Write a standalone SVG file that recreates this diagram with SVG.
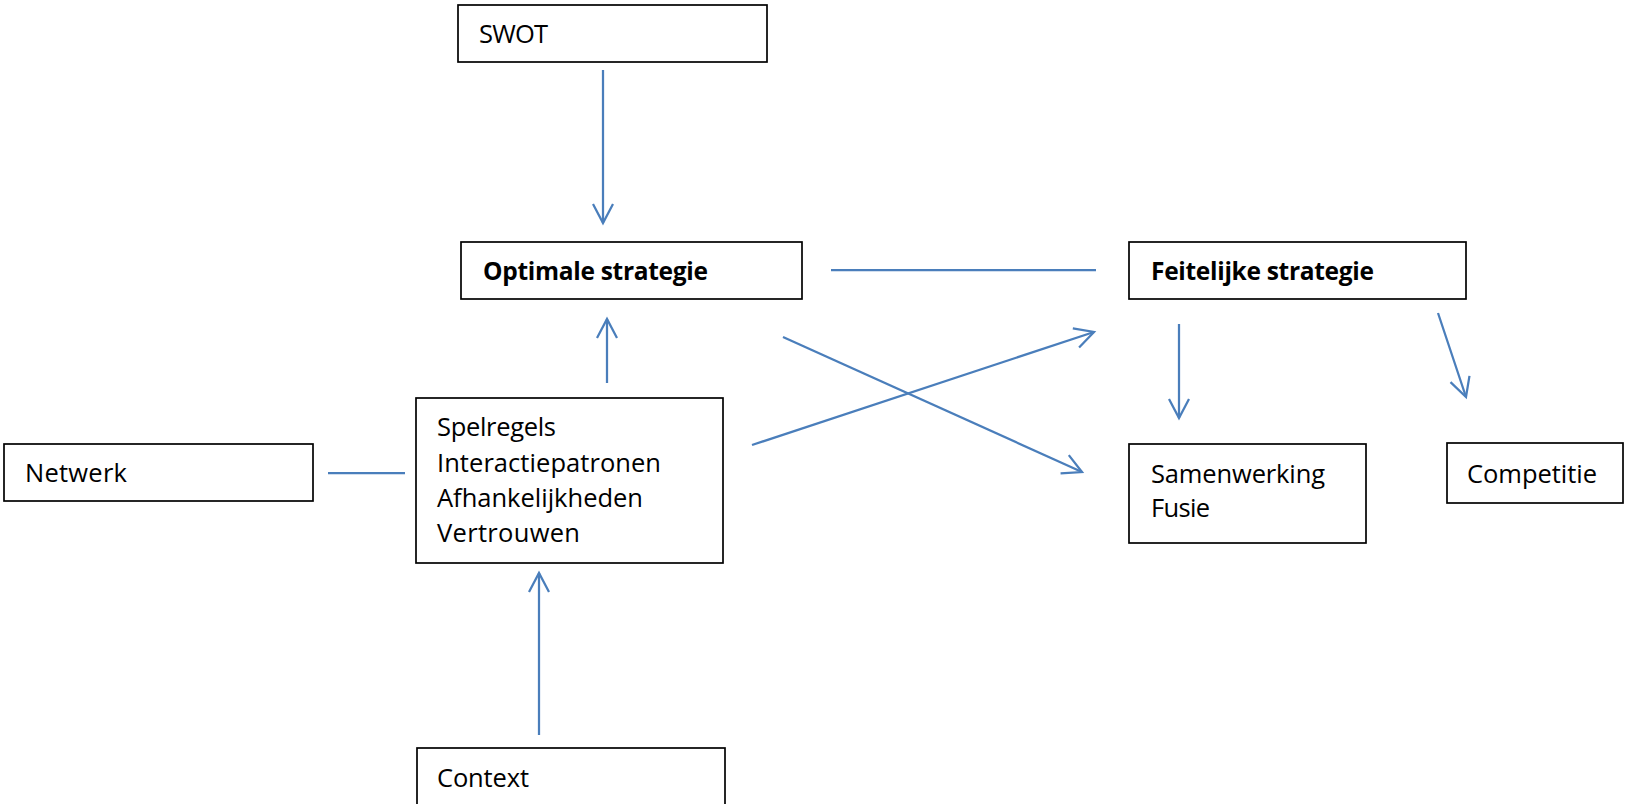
<svg xmlns="http://www.w3.org/2000/svg" width="1625" height="804" viewBox="0 0 1625 804">
  <style>
    .box { fill: #ffffff; stroke: #000000; stroke-width: 1.7; }
    .t { font-family: "Open Sans", "Liberation Sans", sans-serif; font-size: 25.5px; fill: #000000; }
    .b { font-family: "Open Sans", "Liberation Sans", sans-serif; font-size: 24.5px; font-weight: bold; fill: #000000; }
    .c { fill: none; stroke: #4A7EBB; stroke-width: 2.25; }
  </style>
  <defs>
    <marker id="arr" markerUnits="userSpaceOnUse" markerWidth="24" markerHeight="26" viewBox="0 0 24 26" refX="21" refY="13" orient="auto">
      <path d="M2,3 L21,13 L2,23" fill="none" stroke="#4A7EBB" stroke-width="2.25"/>
    </marker>
  </defs>
  <rect width="1625" height="804" fill="#ffffff"/>

  <g id="swot">
    <rect class="box" x="458" y="5" width="309" height="57"/>
    <text class="t" x="479" y="43" textLength="69">SWOT</text>
  </g>
  <g id="optimale">
    <rect class="box" x="461" y="242" width="341" height="57"/>
    <text class="b" x="483" y="280" textLength="225">Optimale strategie</text>
  </g>
  <g id="feitelijke">
    <rect class="box" x="1129" y="242" width="337" height="57"/>
    <text class="b" x="1151" y="280" textLength="223">Feitelijke strategie</text>
  </g>
  <g id="netwerk">
    <rect class="box" x="4" y="444" width="309" height="57"/>
    <text class="t" x="25" y="482" textLength="102">Netwerk</text>
  </g>
  <g id="spelregels">
    <rect class="box" x="416" y="398" width="307" height="165"/>
    <text class="t" x="437" y="436" textLength="119">Spelregels</text>
    <text class="t" x="437" y="472" textLength="224">Interactiepatronen</text>
    <text class="t" x="437" y="507" textLength="206">Afhankelijkheden</text>
    <text class="t" x="437" y="542" textLength="143">Vertrouwen</text>
  </g>
  <g id="samenwerking">
    <rect class="box" x="1129" y="444" width="237" height="99"/>
    <text class="t" x="1151" y="483" textLength="174">Samenwerking</text>
    <text class="t" x="1151" y="517" textLength="59">Fusie</text>
  </g>
  <g id="competitie">
    <rect class="box" x="1447" y="443" width="176" height="60"/>
    <text class="t" x="1467" y="483" textLength="130">Competitie</text>
  </g>
  <g id="context">
    <rect class="box" x="417" y="748" width="308" height="80"/>
    <text class="t" x="437" y="787" textLength="92">Context</text>
  </g>

  <g id="connectors">
    <line class="c" x1="603" y1="70" x2="603" y2="223" marker-end="url(#arr)"/>
    <line class="c" x1="607" y1="383" x2="607" y2="319" marker-end="url(#arr)"/>
    <line class="c" x1="539" y1="735" x2="539" y2="573" marker-end="url(#arr)"/>
    <line class="c" x1="831" y1="270" x2="1096" y2="270"/>
    <line class="c" x1="328" y1="473" x2="405" y2="473"/>
    <line class="c" x1="752" y1="445" x2="1094" y2="332" marker-end="url(#arr)"/>
    <line class="c" x1="783" y1="337" x2="1082" y2="472" marker-end="url(#arr)"/>
    <line class="c" x1="1179" y1="324" x2="1179" y2="418" marker-end="url(#arr)"/>
    <line class="c" x1="1438" y1="313" x2="1466" y2="397" marker-end="url(#arr)"/>
  </g>
</svg>
